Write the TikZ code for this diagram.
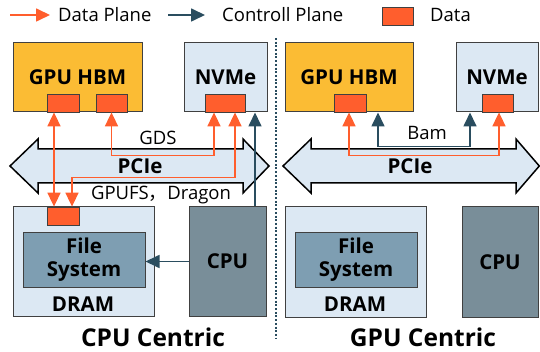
\documentclass[tikz,border=0pt]{standalone}
\usepackage{fontspec}
\setmainfont{Open Sans}
\newfontfamily\cjk{Noto Sans CJK SC}
\usepackage{tikz}
\usetikzlibrary{arrows.meta,positioning,calc}
\definecolor{hbmorange}{RGB}{251,188,52}
\definecolor{memblue}{RGB}{220,232,243}
\definecolor{fsblue}{RGB}{126,158,178}
\definecolor{cpugray}{RGB}{121,142,153}
\definecolor{dataorange}{RGB}{255,94,45}
\definecolor{ctrlteal}{RGB}{42,77,95}
\definecolor{edgegray}{RGB}{64,64,64}

\begin{document}
\begin{tikzpicture}[x=1pt, y=-1pt,
    box/.style={rectangle, draw=edgegray, line width=1pt, inner sep=0pt, align=center,
                font=\fontsize{20.5}{23}\selectfont\bfseries},
    hbm/.style={box, fill=hbmorange},
    mem/.style={box, fill=memblue},
    fs/.style={box, fill=fsblue},
    cpu/.style={box, fill=cpugray},
    datablk/.style={rectangle, draw=black!75, line width=0.8pt, fill=dataorange, inner sep=0pt,
                minimum width=32, minimum height=18},
    dataarr/.style={draw=dataorange, line width=1.7pt, -{Triangle[length=14pt,width=13pt]}},
    databoth/.style={dataarr, {Triangle[length=14pt,width=13pt]}-{Triangle[length=14pt,width=13pt]}},
    ctrlarr/.style={draw=ctrlteal, line width=1.7pt, -{Triangle[length=14pt,width=13pt]}},
    ctrlboth/.style={ctrlarr, {Triangle[length=14pt,width=13pt]}-{Triangle[length=14pt,width=13pt]}},
    pcie/.style={draw=black, line width=1.5pt, fill=memblue, line join=miter},
    lbl/.style={inner sep=0pt, font=\fontsize{18.5}{22}\selectfont},
    bold/.style={inner sep=0pt, font=\fontsize{20.5}{23}\selectfont\bfseries},
    title/.style={inner sep=0pt, font=\fontsize{24.5}{28}\selectfont\bfseries},
]
    \useasboundingbox (0,0) rectangle (540,352);

    % Legend
    \node[lbl, anchor=west] (lgData) at (58,15) {Data Plane};
    \node[lbl, anchor=west] (lgCtrl) at (222,15) {Controll Plane};
    \node[datablk, minimum width=31] (lgBlk) at (397.5,16) {};
    \node[lbl, anchor=west] (lgBlkTxt) at (430,15) {Data};
    \draw[dataarr] ([xshift=-48]lgData.west) -- ([xshift=-8]lgData.west);
    \draw[ctrlarr] ([xshift=-54]lgCtrl.west) -- ([xshift=-17]lgCtrl.west);

    % Separator
    \draw[ctrlteal, line width=1.5pt, dash pattern=on 2pt off 1.7pt] (276,38) -- (276,338);

    %%% CPU centric (left)
    \node[hbm, minimum width=129, minimum height=69] (hbmL) at (77.5,77.5) {GPU HBM};
    \node[mem, minimum width=83, minimum height=69] (nvmeL) at (225.5,77.5) {NVMe};
    \node[datablk] (dL1) at (63,103) {};
    \node[datablk, minimum width=31] (dL2) at (111.5,103) {};
    \node[datablk, minimum width=40] (dL3) at (225,103) {};

    \draw[pcie] (10,166) -- (38,139) -- (38,149) -- (243,149) -- (243,139) -- (269,166)
        -- (243,193) -- (243,183) -- (38,183) -- (38,193) -- cycle;
    \node[bold] (pcieL) at (140,166) {PCIe};

    \node[mem, minimum width=141, minimum height=109] (dramL) at (83.5,261.5) {};
    \node[datablk] (dL4) at (63,216) {};
    \node[fs, minimum width=122, minimum height=54] (fsL) at (84,260) {File\\System};
    \node[bold] (dramLtxt) at (83,304) {DRAM};
    \node[cpu, minimum width=77, minimum height=109] (cpuL) at (227.5,261.5) {CPU};

    % Data plane paths
    \draw[databoth] ([xshift=-9]dL1.south) -- ([xshift=-9]dL4.north);
    \draw[databoth] (dL2.south) -- ++(0,43) -| ([xshift=-11]dL3.south);
    \draw[databoth] ([xshift=10]dL3.south) -- ++(0,65) -| ([xshift=9]dL4.north);
    \node[lbl] (gdsTxt) at (158,138) {GDS};
    \node[lbl] (gpufsTxt) at (161,195) {GPUFS{\cjk ，}Dragon};

    % Control plane paths
    \draw[ctrlarr] ([xshift=27.5]cpuL.north) -- ([xshift=29.5]nvmeL.south);
    \draw[ctrlarr] (cpuL.west) -- (cpuL.west -| fsL.east);

    \node[title] (cpuTitle) at (153,337) {CPU Centric};

    %%% GPU centric (right)
    \node[hbm, minimum width=128, minimum height=69] (hbmR) at (349,77.5) {GPU HBM};
    \node[mem, minimum width=82, minimum height=69] (nvmeR) at (497,77.5) {NVMe};
    \node[datablk] (dR1) at (350,103) {};
    \node[datablk, minimum width=31] (dR2) at (497.5,103) {};

    \draw[pcie] (283,166) -- (311,139) -- (311,149) -- (516,149) -- (516,139) -- (539.3,166)
        -- (516,193) -- (516,183) -- (311,183) -- (311,193) -- cycle;
    \node[bold] (pcieR) at (410,166) {PCIe};

    \node[mem, minimum width=141, minimum height=110] (dramR) at (355.5,262) {};
    \node[fs, minimum width=122, minimum height=54] (fsR) at (356,260) {File\\System};
    \node[bold] (dramRtxt) at (355,304) {DRAM};
    \node[cpu, minimum width=76, minimum height=110] (cpuR) at (500,262) {CPU};

    % Data and control paths
    \draw[databoth] ([xshift=-1]dR1.south) -- ++(0,43) -| ([xshift=1.5]dR2.south);
    \draw[ctrlboth] ([xshift=29]hbmR.south) -- ++(0,34) -| ([xshift=-27]nvmeR.south);
    \node[lbl] (bamTxt) at (427,133) {Bam};

    \node[title] (gpuTitle) at (423,337) {GPU Centric};
\end{tikzpicture}
\end{document}
